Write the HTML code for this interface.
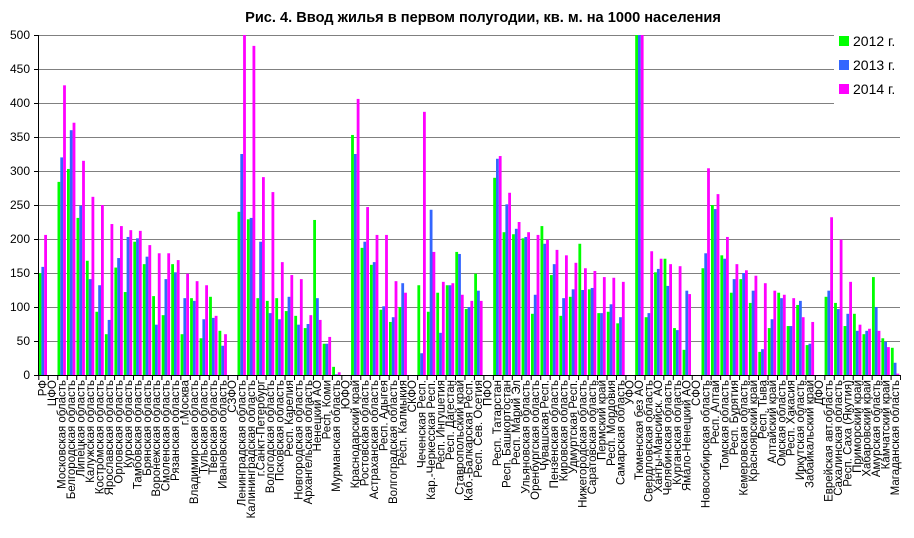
<!DOCTYPE html>
<html><head><meta charset="utf-8"><style>
html,body{margin:0;padding:0;background:#fff}
svg{display:block;font-family:"Liberation Sans",sans-serif}
.g{fill:#00ff00}.b{fill:#3366ff}.m{fill:#ff00ff}
.lb text{font-size:11.5px;text-anchor:end}
</style></head><body>
<svg width="914" height="538" viewBox="0 0 914 538">
<text x="483" y="22" font-size="14.6" font-weight="bold" text-anchor="middle">Рис. 4. Ввод жилья в первом полугодии, кв. м. на 1000 населения</text>
<g stroke="#808080" stroke-width="1">
<line x1="38" x2="834" y1="35.5" y2="35.5"/><line x1="38" x2="834" y1="69.5" y2="69.5"/><line x1="38" x2="834" y1="103.5" y2="103.5"/>
<line x1="38" x2="900" y1="137.5" y2="137.5"/><line x1="38" x2="900" y1="171.5" y2="171.5"/><line x1="38" x2="900" y1="205.5" y2="205.5"/>
<line x1="38" x2="900" y1="239.5" y2="239.5"/><line x1="38" x2="900" y1="273.5" y2="273.5"/><line x1="38" x2="900" y1="307.5" y2="307.5"/>
<line x1="38" x2="900" y1="341.5" y2="341.5"/>
</g>
<g font-size="12" text-anchor="end">
<text x="30" y="39">500</text><text x="30" y="73">450</text><text x="30" y="107">400</text><text x="30" y="141">350</text><text x="30" y="175">300</text><text x="30" y="209">250</text><text x="30" y="243">200</text><text x="30" y="277">150</text><text x="30" y="311">100</text><text x="30" y="345">50</text><text x="30" y="379">0</text>
</g>
<g id="bars">
<g transform="translate(38.3,375) scale(1,-0.68)"><rect class="g" x="0.3" width="2.8" height="150"/><rect class="b" x="3.1" width="2.8" height="159"/><rect class="m" x="5.9" width="2.8" height="206"/></g>
<g transform="translate(57.2,375) scale(1,-0.68)"><rect class="g" x="0.3" width="2.8" height="284"/><rect class="b" x="3.1" width="2.8" height="320"/><rect class="m" x="5.9" width="2.8" height="426"/></g>
<g transform="translate(66.7,375) scale(1,-0.68)"><rect class="g" x="0.3" width="2.8" height="303"/><rect class="b" x="3.1" width="2.8" height="360"/><rect class="m" x="5.9" width="2.8" height="371"/></g>
<g transform="translate(76.2,375) scale(1,-0.68)"><rect class="g" x="0.3" width="2.8" height="231"/><rect class="b" x="3.1" width="2.8" height="249"/><rect class="m" x="5.9" width="2.8" height="315"/></g>
<g transform="translate(85.6,375) scale(1,-0.68)"><rect class="g" x="0.3" width="2.8" height="168"/><rect class="b" x="3.1" width="2.8" height="141"/><rect class="m" x="5.9" width="2.8" height="262"/></g>
<g transform="translate(95.1,375) scale(1,-0.68)"><rect class="g" x="0.3" width="2.8" height="93"/><rect class="b" x="3.1" width="2.8" height="132"/><rect class="m" x="5.9" width="2.8" height="250"/></g>
<g transform="translate(104.6,375) scale(1,-0.68)"><rect class="g" x="0.3" width="2.8" height="60"/><rect class="b" x="3.1" width="2.8" height="81"/><rect class="m" x="5.9" width="2.8" height="222"/></g>
<g transform="translate(114.1,375) scale(1,-0.68)"><rect class="g" x="0.3" width="2.8" height="158"/><rect class="b" x="3.1" width="2.8" height="172"/><rect class="m" x="5.9" width="2.8" height="219"/></g>
<g transform="translate(123.5,375) scale(1,-0.68)"><rect class="g" x="0.3" width="2.8" height="122"/><rect class="b" x="3.1" width="2.8" height="203"/><rect class="m" x="5.9" width="2.8" height="213"/></g>
<g transform="translate(133.0,375) scale(1,-0.68)"><rect class="g" x="0.3" width="2.8" height="196"/><rect class="b" x="3.1" width="2.8" height="201"/><rect class="m" x="5.9" width="2.8" height="212"/></g>
<g transform="translate(142.5,375) scale(1,-0.68)"><rect class="g" x="0.3" width="2.8" height="163"/><rect class="b" x="3.1" width="2.8" height="174"/><rect class="m" x="5.9" width="2.8" height="191"/></g>
<g transform="translate(151.9,375) scale(1,-0.68)"><rect class="g" x="0.3" width="2.8" height="116"/><rect class="b" x="3.1" width="2.8" height="74"/><rect class="m" x="5.9" width="2.8" height="179"/></g>
<g transform="translate(161.4,375) scale(1,-0.68)"><rect class="g" x="0.3" width="2.8" height="88"/><rect class="b" x="3.1" width="2.8" height="141"/><rect class="m" x="5.9" width="2.8" height="179"/></g>
<g transform="translate(170.9,375) scale(1,-0.68)"><rect class="g" x="0.3" width="2.8" height="163"/><rect class="b" x="3.1" width="2.8" height="151"/><rect class="m" x="5.9" width="2.8" height="169"/></g>
<g transform="translate(180.3,375) scale(1,-0.68)"><rect class="g" x="0.3" width="2.8" height="60"/><rect class="b" x="3.1" width="2.8" height="113"/><rect class="m" x="5.9" width="2.8" height="149"/></g>
<g transform="translate(189.8,375) scale(1,-0.68)"><rect class="g" x="0.3" width="2.8" height="113"/><rect class="b" x="3.1" width="2.8" height="109"/><rect class="m" x="5.9" width="2.8" height="138"/></g>
<g transform="translate(199.3,375) scale(1,-0.68)"><rect class="g" x="0.3" width="2.8" height="54"/><rect class="b" x="3.1" width="2.8" height="82"/><rect class="m" x="5.9" width="2.8" height="132"/></g>
<g transform="translate(208.8,375) scale(1,-0.68)"><rect class="g" x="0.3" width="2.8" height="115"/><rect class="b" x="3.1" width="2.8" height="84"/><rect class="m" x="5.9" width="2.8" height="87"/></g>
<g transform="translate(218.2,375) scale(1,-0.68)"><rect class="g" x="0.3" width="2.8" height="65"/><rect class="b" x="3.1" width="2.8" height="43"/><rect class="m" x="5.9" width="2.8" height="60"/></g>
<g transform="translate(237.2,375) scale(1,-0.68)"><rect class="g" x="0.3" width="2.8" height="240"/><rect class="b" x="3.1" width="2.8" height="325"/><rect class="m" x="5.9" width="2.8" height="500"/></g>
<g transform="translate(246.6,375) scale(1,-0.68)"><rect class="g" x="0.3" width="2.8" height="229"/><rect class="b" x="3.1" width="2.8" height="231"/><rect class="m" x="5.9" width="2.8" height="484"/></g>
<g transform="translate(256.1,375) scale(1,-0.68)"><rect class="g" x="0.3" width="2.8" height="113"/><rect class="b" x="3.1" width="2.8" height="196"/><rect class="m" x="5.9" width="2.8" height="291"/></g>
<g transform="translate(265.6,375) scale(1,-0.68)"><rect class="g" x="0.3" width="2.8" height="109"/><rect class="b" x="3.1" width="2.8" height="91"/><rect class="m" x="5.9" width="2.8" height="269"/></g>
<g transform="translate(275.0,375) scale(1,-0.68)"><rect class="g" x="0.3" width="2.8" height="113"/><rect class="b" x="3.1" width="2.8" height="82"/><rect class="m" x="5.9" width="2.8" height="166"/></g>
<g transform="translate(284.5,375) scale(1,-0.68)"><rect class="g" x="0.3" width="2.8" height="94"/><rect class="b" x="3.1" width="2.8" height="115"/><rect class="m" x="5.9" width="2.8" height="147"/></g>
<g transform="translate(294.0,375) scale(1,-0.68)"><rect class="g" x="0.3" width="2.8" height="87"/><rect class="b" x="3.1" width="2.8" height="74"/><rect class="m" x="5.9" width="2.8" height="141"/></g>
<g transform="translate(303.5,375) scale(1,-0.68)"><rect class="g" x="0.3" width="2.8" height="69"/><rect class="b" x="3.1" width="2.8" height="75"/><rect class="m" x="5.9" width="2.8" height="88"/></g>
<g transform="translate(312.9,375) scale(1,-0.68)"><rect class="g" x="0.3" width="2.8" height="228"/><rect class="b" x="3.1" width="2.8" height="113"/><rect class="m" x="5.9" width="2.8" height="81"/></g>
<g transform="translate(322.4,375) scale(1,-0.68)"><rect class="g" x="0.3" width="2.8" height="46"/><rect class="b" x="3.1" width="2.8" height="46"/><rect class="m" x="5.9" width="2.8" height="56"/></g>
<g transform="translate(331.9,375) scale(1,-0.68)"><rect class="g" x="0.3" width="2.8" height="12"/><rect class="b" x="3.1" width="2.8" height="1"/><rect class="m" x="5.9" width="2.8" height="4"/></g>
<g transform="translate(350.8,375) scale(1,-0.68)"><rect class="g" x="0.3" width="2.8" height="353"/><rect class="b" x="3.1" width="2.8" height="325"/><rect class="m" x="5.9" width="2.8" height="406"/></g>
<g transform="translate(360.3,375) scale(1,-0.68)"><rect class="g" x="0.3" width="2.8" height="187"/><rect class="b" x="3.1" width="2.8" height="196"/><rect class="m" x="5.9" width="2.8" height="247"/></g>
<g transform="translate(369.7,375) scale(1,-0.68)"><rect class="g" x="0.3" width="2.8" height="162"/><rect class="b" x="3.1" width="2.8" height="166"/><rect class="m" x="5.9" width="2.8" height="206"/></g>
<g transform="translate(379.2,375) scale(1,-0.68)"><rect class="g" x="0.3" width="2.8" height="96"/><rect class="b" x="3.1" width="2.8" height="101"/><rect class="m" x="5.9" width="2.8" height="206"/></g>
<g transform="translate(388.7,375) scale(1,-0.68)"><rect class="g" x="0.3" width="2.8" height="78"/><rect class="b" x="3.1" width="2.8" height="85"/><rect class="m" x="5.9" width="2.8" height="138"/></g>
<g transform="translate(398.2,375) scale(1,-0.68)"><rect class="g" x="0.3" width="2.8" height="100"/><rect class="b" x="3.1" width="2.8" height="135"/><rect class="m" x="5.9" width="2.8" height="121"/></g>
<g transform="translate(417.1,375) scale(1,-0.68)"><rect class="g" x="0.3" width="2.8" height="132"/><rect class="b" x="3.1" width="2.8" height="32"/><rect class="m" x="5.9" width="2.8" height="387"/></g>
<g transform="translate(426.6,375) scale(1,-0.68)"><rect class="g" x="0.3" width="2.8" height="93"/><rect class="b" x="3.1" width="2.8" height="243"/><rect class="m" x="5.9" width="2.8" height="181"/></g>
<g transform="translate(436.0,375) scale(1,-0.68)"><rect class="g" x="0.3" width="2.8" height="121"/><rect class="b" x="3.1" width="2.8" height="62"/><rect class="m" x="5.9" width="2.8" height="137"/></g>
<g transform="translate(445.5,375) scale(1,-0.68)"><rect class="g" x="0.3" width="2.8" height="132"/><rect class="b" x="3.1" width="2.8" height="132"/><rect class="m" x="5.9" width="2.8" height="135"/></g>
<g transform="translate(455.0,375) scale(1,-0.68)"><rect class="g" x="0.3" width="2.8" height="181"/><rect class="b" x="3.1" width="2.8" height="178"/><rect class="m" x="5.9" width="2.8" height="118"/></g>
<g transform="translate(464.5,375) scale(1,-0.68)"><rect class="g" x="0.3" width="2.8" height="97"/><rect class="b" x="3.1" width="2.8" height="100"/><rect class="m" x="5.9" width="2.8" height="109"/></g>
<g transform="translate(473.9,375) scale(1,-0.68)"><rect class="g" x="0.3" width="2.8" height="149"/><rect class="b" x="3.1" width="2.8" height="124"/><rect class="m" x="5.9" width="2.8" height="109"/></g>
<g transform="translate(492.9,375) scale(1,-0.68)"><rect class="g" x="0.3" width="2.8" height="290"/><rect class="b" x="3.1" width="2.8" height="318"/><rect class="m" x="5.9" width="2.8" height="322"/></g>
<g transform="translate(502.3,375) scale(1,-0.68)"><rect class="g" x="0.3" width="2.8" height="210"/><rect class="b" x="3.1" width="2.8" height="251"/><rect class="m" x="5.9" width="2.8" height="268"/></g>
<g transform="translate(511.8,375) scale(1,-0.68)"><rect class="g" x="0.3" width="2.8" height="207"/><rect class="b" x="3.1" width="2.8" height="215"/><rect class="m" x="5.9" width="2.8" height="225"/></g>
<g transform="translate(521.3,375) scale(1,-0.68)"><rect class="g" x="0.3" width="2.8" height="201"/><rect class="b" x="3.1" width="2.8" height="203"/><rect class="m" x="5.9" width="2.8" height="210"/></g>
<g transform="translate(530.7,375) scale(1,-0.68)"><rect class="g" x="0.3" width="2.8" height="90"/><rect class="b" x="3.1" width="2.8" height="118"/><rect class="m" x="5.9" width="2.8" height="206"/></g>
<g transform="translate(540.2,375) scale(1,-0.68)"><rect class="g" x="0.3" width="2.8" height="219"/><rect class="b" x="3.1" width="2.8" height="193"/><rect class="m" x="5.9" width="2.8" height="199"/></g>
<g transform="translate(549.7,375) scale(1,-0.68)"><rect class="g" x="0.3" width="2.8" height="147"/><rect class="b" x="3.1" width="2.8" height="163"/><rect class="m" x="5.9" width="2.8" height="184"/></g>
<g transform="translate(559.1,375) scale(1,-0.68)"><rect class="g" x="0.3" width="2.8" height="87"/><rect class="b" x="3.1" width="2.8" height="113"/><rect class="m" x="5.9" width="2.8" height="176"/></g>
<g transform="translate(568.6,375) scale(1,-0.68)"><rect class="g" x="0.3" width="2.8" height="115"/><rect class="b" x="3.1" width="2.8" height="126"/><rect class="m" x="5.9" width="2.8" height="165"/></g>
<g transform="translate(578.1,375) scale(1,-0.68)"><rect class="g" x="0.3" width="2.8" height="193"/><rect class="b" x="3.1" width="2.8" height="125"/><rect class="m" x="5.9" width="2.8" height="157"/></g>
<g transform="translate(587.6,375) scale(1,-0.68)"><rect class="g" x="0.3" width="2.8" height="126"/><rect class="b" x="3.1" width="2.8" height="128"/><rect class="m" x="5.9" width="2.8" height="153"/></g>
<g transform="translate(597.0,375) scale(1,-0.68)"><rect class="g" x="0.3" width="2.8" height="91"/><rect class="b" x="3.1" width="2.8" height="91"/><rect class="m" x="5.9" width="2.8" height="144"/></g>
<g transform="translate(606.5,375) scale(1,-0.68)"><rect class="g" x="0.3" width="2.8" height="93"/><rect class="b" x="3.1" width="2.8" height="104"/><rect class="m" x="5.9" width="2.8" height="143"/></g>
<g transform="translate(616.0,375) scale(1,-0.68)"><rect class="g" x="0.3" width="2.8" height="76"/><rect class="b" x="3.1" width="2.8" height="85"/><rect class="m" x="5.9" width="2.8" height="137"/></g>
<g transform="translate(634.9,375) scale(1,-0.68)"><rect class="g" x="0.3" width="2.8" height="500"/><rect class="b" x="3.1" width="2.8" height="500"/><rect class="m" x="5.9" width="2.8" height="500"/></g>
<g transform="translate(644.4,375) scale(1,-0.68)"><rect class="g" x="0.3" width="2.8" height="85"/><rect class="b" x="3.1" width="2.8" height="91"/><rect class="m" x="5.9" width="2.8" height="182"/></g>
<g transform="translate(653.8,375) scale(1,-0.68)"><rect class="g" x="0.3" width="2.8" height="151"/><rect class="b" x="3.1" width="2.8" height="156"/><rect class="m" x="5.9" width="2.8" height="171"/></g>
<g transform="translate(663.3,375) scale(1,-0.68)"><rect class="g" x="0.3" width="2.8" height="171"/><rect class="b" x="3.1" width="2.8" height="131"/><rect class="m" x="5.9" width="2.8" height="163"/></g>
<g transform="translate(672.8,375) scale(1,-0.68)"><rect class="g" x="0.3" width="2.8" height="69"/><rect class="b" x="3.1" width="2.8" height="66"/><rect class="m" x="5.9" width="2.8" height="160"/></g>
<g transform="translate(682.3,375) scale(1,-0.68)"><rect class="g" x="0.3" width="2.8" height="37"/><rect class="b" x="3.1" width="2.8" height="124"/><rect class="m" x="5.9" width="2.8" height="119"/></g>
<g transform="translate(701.2,375) scale(1,-0.68)"><rect class="g" x="0.3" width="2.8" height="157"/><rect class="b" x="3.1" width="2.8" height="179"/><rect class="m" x="5.9" width="2.8" height="304"/></g>
<g transform="translate(710.7,375) scale(1,-0.68)"><rect class="g" x="0.3" width="2.8" height="250"/><rect class="b" x="3.1" width="2.8" height="244"/><rect class="m" x="5.9" width="2.8" height="266"/></g>
<g transform="translate(720.1,375) scale(1,-0.68)"><rect class="g" x="0.3" width="2.8" height="176"/><rect class="b" x="3.1" width="2.8" height="171"/><rect class="m" x="5.9" width="2.8" height="203"/></g>
<g transform="translate(729.6,375) scale(1,-0.68)"><rect class="g" x="0.3" width="2.8" height="121"/><rect class="b" x="3.1" width="2.8" height="141"/><rect class="m" x="5.9" width="2.8" height="163"/></g>
<g transform="translate(739.1,375) scale(1,-0.68)"><rect class="g" x="0.3" width="2.8" height="141"/><rect class="b" x="3.1" width="2.8" height="150"/><rect class="m" x="5.9" width="2.8" height="154"/></g>
<g transform="translate(748.6,375) scale(1,-0.68)"><rect class="g" x="0.3" width="2.8" height="106"/><rect class="b" x="3.1" width="2.8" height="124"/><rect class="m" x="5.9" width="2.8" height="146"/></g>
<g transform="translate(758.0,375) scale(1,-0.68)"><rect class="g" x="0.3" width="2.8" height="34"/><rect class="b" x="3.1" width="2.8" height="38"/><rect class="m" x="5.9" width="2.8" height="135"/></g>
<g transform="translate(767.5,375) scale(1,-0.68)"><rect class="g" x="0.3" width="2.8" height="69"/><rect class="b" x="3.1" width="2.8" height="82"/><rect class="m" x="5.9" width="2.8" height="124"/></g>
<g transform="translate(777.0,375) scale(1,-0.68)"><rect class="g" x="0.3" width="2.8" height="121"/><rect class="b" x="3.1" width="2.8" height="113"/><rect class="m" x="5.9" width="2.8" height="118"/></g>
<g transform="translate(786.4,375) scale(1,-0.68)"><rect class="g" x="0.3" width="2.8" height="72"/><rect class="b" x="3.1" width="2.8" height="72"/><rect class="m" x="5.9" width="2.8" height="113"/></g>
<g transform="translate(795.9,375) scale(1,-0.68)"><rect class="g" x="0.3" width="2.8" height="103"/><rect class="b" x="3.1" width="2.8" height="109"/><rect class="m" x="5.9" width="2.8" height="85"/></g>
<g transform="translate(805.4,375) scale(1,-0.68)"><rect class="g" x="0.3" width="2.8" height="44"/><rect class="b" x="3.1" width="2.8" height="46"/><rect class="m" x="5.9" width="2.8" height="78"/></g>
<g transform="translate(824.3,375) scale(1,-0.68)"><rect class="g" x="0.3" width="2.8" height="115"/><rect class="b" x="3.1" width="2.8" height="124"/><rect class="m" x="5.9" width="2.8" height="232"/></g>
<g transform="translate(833.8,375) scale(1,-0.68)"><rect class="g" x="0.3" width="2.8" height="106"/><rect class="b" x="3.1" width="2.8" height="97"/><rect class="m" x="5.9" width="2.8" height="199"/></g>
<g transform="translate(843.3,375) scale(1,-0.68)"><rect class="g" x="0.3" width="2.8" height="72"/><rect class="b" x="3.1" width="2.8" height="90"/><rect class="m" x="5.9" width="2.8" height="137"/></g>
<g transform="translate(852.7,375) scale(1,-0.68)"><rect class="g" x="0.3" width="2.8" height="90"/><rect class="b" x="3.1" width="2.8" height="65"/><rect class="m" x="5.9" width="2.8" height="74"/></g>
<g transform="translate(862.2,375) scale(1,-0.68)"><rect class="g" x="0.3" width="2.8" height="60"/><rect class="b" x="3.1" width="2.8" height="65"/><rect class="m" x="5.9" width="2.8" height="68"/></g>
<g transform="translate(871.7,375) scale(1,-0.68)"><rect class="g" x="0.3" width="2.8" height="144"/><rect class="b" x="3.1" width="2.8" height="100"/><rect class="m" x="5.9" width="2.8" height="65"/></g>
<g transform="translate(881.1,375) scale(1,-0.68)"><rect class="g" x="0.3" width="2.8" height="54"/><rect class="b" x="3.1" width="2.8" height="49"/><rect class="m" x="5.9" width="2.8" height="41"/></g>
<g transform="translate(890.6,375) scale(1,-0.68)"><rect class="g" x="0.3" width="2.8" height="40"/><rect class="b" x="3.1" width="2.8" height="18"/><rect class="m" x="5.9" width="2.8" height="2"/></g>
</g>
<g stroke="#000" stroke-width="1">
<line x1="38.5" y1="35" x2="38.5" y2="375"/>
<line x1="38" y1="375.5" x2="900" y2="375.5"/>
<path d="M34 35.5H38M34 69.5H38M34 103.5H38M34 137.5H38M34 171.5H38M34 205.5H38M34 239.5H38M34 273.5H38M34 307.5H38M34 341.5H38M34 375.5H38"/>
</g>
<svg x="0" y="0" width="914" height="538" overflow="visible">
<defs><pattern id="tk" x="38.3" y="0" width="9.47" height="538" patternUnits="userSpaceOnUse"><rect x="0" y="375" width="1" height="5" fill="#000"/></pattern></defs>
<rect x="38" y="375" width="863" height="5" fill="url(#tk)"/>
</svg>
<rect x="836" y="30" width="78" height="72" fill="#fff"/>
<rect x="839" y="36" width="10" height="10" class="g"/><text x="853" y="46" font-size="14">2012 г.</text>
<rect x="839" y="60" width="10" height="10" class="b"/><text x="853" y="70" font-size="14">2013 г.</text>
<rect x="839" y="84" width="10" height="10" class="m"/><text x="853" y="94" font-size="14">2014 г.</text>
<g class="lb">
<text transform="translate(46.6,380) rotate(-90)">РФ</text>
<text transform="translate(56.1,380) rotate(-90)">ЦФО</text>
<text transform="translate(65.5,380) rotate(-90)">Московская область</text>
<text transform="translate(75.0,380) rotate(-90)">Белгородская область</text>
<text transform="translate(84.5,380) rotate(-90)">Липецкая область</text>
<text transform="translate(94.0,380) rotate(-90)">Калужская область</text>
<text transform="translate(103.4,380) rotate(-90)">Костромская область</text>
<text transform="translate(112.9,380) rotate(-90)">Ярославская область</text>
<text transform="translate(122.4,380) rotate(-90)">Орловская область</text>
<text transform="translate(131.8,380) rotate(-90)">Курская область</text>
<text transform="translate(141.3,380) rotate(-90)">Тамбовская область</text>
<text transform="translate(150.8,380) rotate(-90)">Брянская область</text>
<text transform="translate(160.2,380) rotate(-90)">Воронежская область</text>
<text transform="translate(169.7,380) rotate(-90)">Смоленская область</text>
<text transform="translate(179.2,380) rotate(-90)">Рязанская область</text>
<text transform="translate(188.6,380) rotate(-90)">г.Москва</text>
<text transform="translate(198.1,380) rotate(-90)">Владимирская область</text>
<text transform="translate(207.6,380) rotate(-90)">Тульская область</text>
<text transform="translate(217.1,380) rotate(-90)">Тверская область</text>
<text transform="translate(226.5,380) rotate(-90)">Ивановская область</text>
<text transform="translate(236.0,380) rotate(-90)">СЗФО</text>
<text transform="translate(245.5,380) rotate(-90)">Ленинградская область</text>
<text transform="translate(254.9,380) rotate(-90)">Калининградская область</text>
<text transform="translate(264.4,380) rotate(-90)">г.Санкт-Петербург</text>
<text transform="translate(273.9,380) rotate(-90)">Вологодская область</text>
<text transform="translate(283.3,380) rotate(-90)">Псковская область</text>
<text transform="translate(292.8,380) rotate(-90)">Респ. Карелия</text>
<text transform="translate(302.3,380) rotate(-90)">Новгородская область</text>
<text transform="translate(311.8,380) rotate(-90)">Архангельская область</text>
<text transform="translate(321.2,380) rotate(-90)">Ненецкий АО</text>
<text transform="translate(330.7,380) rotate(-90)">Респ. Коми</text>
<text transform="translate(340.2,380) rotate(-90)">Мурманская область</text>
<text transform="translate(349.6,380) rotate(-90)">ЮФО</text>
<text transform="translate(359.1,380) rotate(-90)">Краснодарский край</text>
<text transform="translate(368.6,380) rotate(-90)">Ростовская область</text>
<text transform="translate(378.0,380) rotate(-90)">Астраханская область</text>
<text transform="translate(387.5,380) rotate(-90)">Респ. Адыгея</text>
<text transform="translate(397.0,380) rotate(-90)">Волгоградская область</text>
<text transform="translate(406.5,380) rotate(-90)">Респ. Калмыкия</text>
<text transform="translate(415.9,380) rotate(-90)">СКФО</text>
<text transform="translate(425.4,380) rotate(-90)">Чеченская Респ.</text>
<text transform="translate(434.9,380) rotate(-90)">Кар.-Черкесская Респ.</text>
<text transform="translate(444.3,380) rotate(-90)">Респ. Ингушетия</text>
<text transform="translate(453.8,380) rotate(-90)">Респ. Дагестан</text>
<text transform="translate(463.3,380) rotate(-90)">Ставропольский край</text>
<text transform="translate(472.7,380) rotate(-90)">Каб.-Балкарская Респ.</text>
<text transform="translate(482.2,380) rotate(-90)">Респ. Сев. Осетия</text>
<text transform="translate(491.7,380) rotate(-90)">ПФО</text>
<text transform="translate(501.2,380) rotate(-90)">Респ. Татарстан</text>
<text transform="translate(510.6,380) rotate(-90)">Респ. Башкортостан</text>
<text transform="translate(520.1,380) rotate(-90)">Респ. Марий Эл</text>
<text transform="translate(529.6,380) rotate(-90)">Ульяновская область</text>
<text transform="translate(539.0,380) rotate(-90)">Оренбургская область</text>
<text transform="translate(548.5,380) rotate(-90)">Чувашская Респ.</text>
<text transform="translate(558.0,380) rotate(-90)">Пензенская область</text>
<text transform="translate(567.4,380) rotate(-90)">Кировская область</text>
<text transform="translate(576.9,380) rotate(-90)">Удмуртская Респ.</text>
<text transform="translate(586.4,380) rotate(-90)">Нижегородская область</text>
<text transform="translate(595.9,380) rotate(-90)">Саратовская область</text>
<text transform="translate(605.3,380) rotate(-90)">Пермский край</text>
<text transform="translate(614.8,380) rotate(-90)">Респ. Мордовия</text>
<text transform="translate(624.3,380) rotate(-90)">Самарская область</text>
<text transform="translate(633.7,380) rotate(-90)">УФО</text>
<text transform="translate(643.2,380) rotate(-90)">Тюменская без АО</text>
<text transform="translate(652.7,380) rotate(-90)">Свердловская область</text>
<text transform="translate(662.1,380) rotate(-90)">Ханты-Мансийск. АО</text>
<text transform="translate(671.6,380) rotate(-90)">Челябинская область</text>
<text transform="translate(681.1,380) rotate(-90)">Курганская область</text>
<text transform="translate(690.6,380) rotate(-90)">Ямало-Ненецкий АО</text>
<text transform="translate(700.0,380) rotate(-90)">СФО</text>
<text transform="translate(709.5,380) rotate(-90)">Новосибирская область</text>
<text transform="translate(719.0,380) rotate(-90)">Респ. Алтай</text>
<text transform="translate(728.4,380) rotate(-90)">Томская область</text>
<text transform="translate(737.9,380) rotate(-90)">Респ. Бурятия</text>
<text transform="translate(747.4,380) rotate(-90)">Кемеровская область</text>
<text transform="translate(756.8,380) rotate(-90)">Красноярский край</text>
<text transform="translate(766.3,380) rotate(-90)">Респ. Тыва</text>
<text transform="translate(775.8,380) rotate(-90)">Алтайский край</text>
<text transform="translate(785.3,380) rotate(-90)">Омская область</text>
<text transform="translate(794.7,380) rotate(-90)">Респ. Хакасия</text>
<text transform="translate(804.2,380) rotate(-90)">Иркутская область</text>
<text transform="translate(813.7,380) rotate(-90)">Забайкальский край</text>
<text transform="translate(823.1,380) rotate(-90)">ДФО</text>
<text transform="translate(832.6,380) rotate(-90)">Еврейская авт.область</text>
<text transform="translate(842.1,380) rotate(-90)">Сахалинская область</text>
<text transform="translate(851.5,380) rotate(-90)">Респ. Саха (Якутия)</text>
<text transform="translate(861.0,380) rotate(-90)">Приморский край</text>
<text transform="translate(870.5,380) rotate(-90)">Хабаровский край</text>
<text transform="translate(880.0,380) rotate(-90)">Амурская область</text>
<text transform="translate(889.4,380) rotate(-90)">Камчатский край</text>
<text transform="translate(898.9,380) rotate(-90)">Магаданская область</text>
</g>
</svg>
</body></html>
